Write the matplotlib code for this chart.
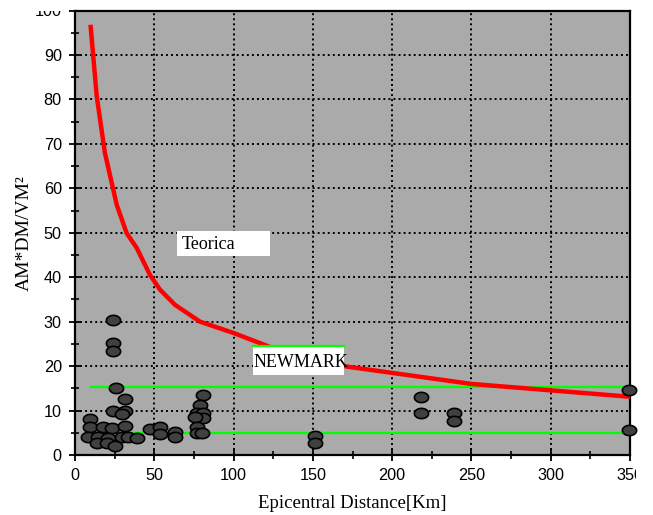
import numpy as np
import matplotlib
matplotlib.use("Agg")
import matplotlib.pyplot as plt
from matplotlib.path import Path
from matplotlib.patches import Rectangle
from matplotlib.transforms import Bbox, TransformedBbox

# ---- data ----
dist = [24.1, 24.1, 24.1, 25.7, 31.5, 24.1, 31.5, 29.4, 9.5, 9.5, 17.8, 23.1,
        31.5, 8.4, 14.7, 21.0, 29.4, 33.6, 38.9, 13.7, 20.0, 25.2,
        47.3, 53.6, 53.6, 63.0, 63.0,
        80.9, 78.8, 76.7, 80.9, 80.9, 75.7, 76.7, 76.7, 79.9,
        151.3, 151.3, 218.0, 218.0, 239.0, 239.0, 349.5, 349.5]
ratio = [30.4, 25.2, 23.3, 15.0, 12.5, 9.8, 9.8, 9.2, 8.0, 6.2, 6.2, 6.0,
         6.5, 4.0, 4.1, 3.8, 4.1, 4.1, 3.9, 2.6, 2.6, 2.1,
         5.8, 6.2, 4.7, 5.2, 4.1,
         13.5, 11.3, 9.4, 9.4, 8.3, 8.6, 6.4, 4.9, 4.9,
         4.3, 2.7, 13.0, 9.4, 9.4, 7.7, 14.6, 5.7]

teorica_x = [9.9, 13.7, 18.9, 26.3, 32.6, 38.9, 47.3, 53.6, 63.0, 78.8,
             99.6, 123.0, 171.3, 249.7, 350.0]
teorica_y = [96.3, 80.7, 67.9, 56.3, 49.9, 46.6, 40.5, 37.2, 33.8, 30.0,
             27.5, 24.3, 19.9, 16.0, 13.1]

newmark_x = [10.1, 350.0]
newmark_low = [5.0, 5.0]
newmark_high = [15.2, 15.2]

xticks = [0, 50, 100, 150, 200, 250, 300, 350]
yticks = [0, 10, 20, 30, 40, 50, 60, 70, 80, 90, 100]

# ---- figure ----
W, H = 653, 515
fig = plt.figure(figsize=(W / 100, H / 100), dpi=100)
ax_top = 10.5
ax_bot = 455
ax = fig.add_axes([75 / W, 1 - ax_bot / H, (630 - 75) / W, (ax_bot - ax_top) / H])
ax.set_facecolor("#aaaaaa")
ax.set_xlim(0, 350)
ax.set_ylim(0, 100)

ax.set_xticks(xticks)
ax.set_yticks(yticks)
ax.set_xticks(np.arange(0, 351, 25), minor=True)
ax.set_yticks(np.arange(0, 101, 5), minor=True)
ax.grid(True, which="major", color="black", linestyle=(0, (1, 1.6)), linewidth=1.4)
ax.set_axisbelow(True)
ax.tick_params(which="major", direction="inout", length=9, width=1.3,
               labelsize=11.7, pad=5, colors="black")
ax.tick_params(which="minor", direction="inout", length=6, width=1.2)
for lab in ax.get_xticklabels() + ax.get_yticklabels():
    lab.set_family("Liberation Sans")
for sp in ax.spines.values():
    sp.set_linewidth(1.6)

# Newmark lines
ax.plot(newmark_x, newmark_low, color="#00ff00", lw=1.6, zorder=3)
ax.plot(newmark_x, newmark_high, color="#00ff00", lw=1.6, zorder=3)

# Teorica curve
ax.plot(teorica_x, teorica_y, color="#ff0000", lw=3.2, zorder=4,
        solid_joinstyle="miter")

# ellipse marker
t = np.linspace(0, 2 * np.pi, 60)
ell = Path(np.column_stack([np.cos(t), 0.72 * np.sin(t)]), closed=True)
ax.scatter(dist, ratio, s=105, marker=ell, facecolor="#404040",
           edgecolor="black", linewidth=1.2, zorder=5, clip_on=False)

# label boxes
ax.add_patch(Rectangle((64.1, 44.7), 123.0 - 64.1, 50.3 - 44.7,
                       facecolor="white", edgecolor="none", zorder=6))
ax.text(67.3, 47.3, "Teorica", family="Liberation Serif", fontsize=13,
        va="center", ha="left", zorder=7)

ax.add_patch(Rectangle((112.0, 18.0), 169.4 - 112.0, 24.5 - 18.0,
                       facecolor="white", edgecolor="none", zorder=6))
ax.plot([112.0, 169.4], [24.5, 24.5], color="#00ff00", lw=1.6, zorder=7)
ax.text(112.3, 20.9, "NEWMARK", family="Liberation Serif", fontsize=13,
        va="center", ha="left", zorder=7)

ax.set_xlabel("Epicentral Distance[Km]", family="Liberation Serif",
              fontsize=13.5, va="center")
ax.set_ylabel("AM*DM/VM²", family="Liberation Serif", fontsize=14,
              va="center")
ax.xaxis.set_label_coords(0.5, -(503 - ax_bot) / (ax_bot - ax_top))
ax.yaxis.set_label_coords((24.5 - 75) / 555, 0.5)

# clip tick labels at the plot edge like the reference
for lab in ax.get_xticklabels():
    lab.set_clip_box(TransformedBbox(Bbox([[0, 0], [636 / W, 1]]), fig.transFigure))
    lab.set_clip_on(True)
for lab in ax.get_yticklabels():
    lab.set_clip_box(TransformedBbox(Bbox([[0, 0], [1, 1 - ax_top / H]]), fig.transFigure))
    lab.set_clip_on(True)

fig.savefig("out.png", dpi=100)
